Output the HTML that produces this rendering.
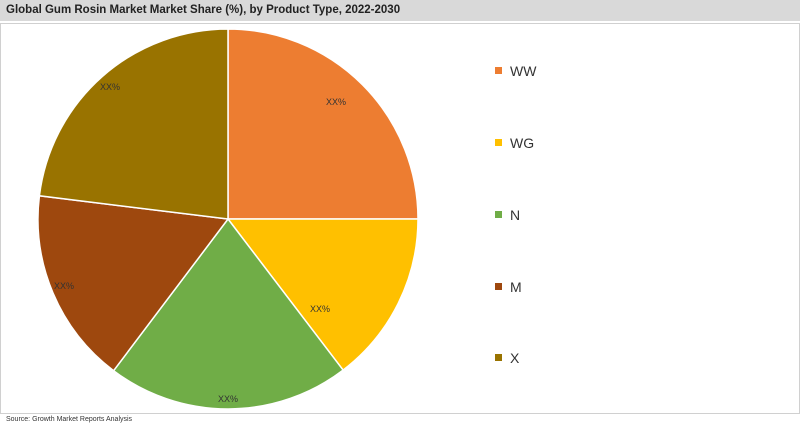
<!DOCTYPE html>
<html><head><style>
body{margin:0;width:800px;height:425px;background:#fff;font-family:"Liberation Sans",sans-serif;overflow:hidden;position:relative}
.t{position:absolute;left:0;top:0;width:800px;height:21px;background:#d9d9d9;font-size:11.5px;font-weight:bold;color:#222;line-height:21px;padding-left:6px;box-sizing:border-box}
.f{position:absolute;left:0;top:23px;width:798px;height:389px;border:1px solid #d0d0d0}
.s{position:absolute;left:6px;top:416px;font-size:7px;color:#333}
</style></head><body>
<div class="t">Global Gum Rosin Market Market Share (%), by Product Type, 2022-2030</div>
<div class="f"></div>
<svg style="position:absolute;left:0;top:0" width="800" height="425">
<g stroke="#fff" stroke-width="1.5">
<path d="M228,219 L228,29 A190,190 0 0 1 418,219 Z" fill="#ed7d31"/>
<path d="M228,219 L418,219 A190,190 0 0 1 343.1,370.1 Z" fill="#ffc000"/>
<path d="M228,219 L343.1,370.1 A190,190 0 0 1 113.6,370.7 Z" fill="#70ad47"/>
<path d="M228,219 L113.6,370.7 A190,190 0 0 1 39.4,195.8 Z" fill="#9e480e"/>
<path d="M228,219 L39.4,195.8 A190,190 0 0 1 228,29 Z" fill="#997300"/>
</g>
<g font-size="9" fill="#333" text-anchor="middle">
<text x="336" y="105">XX%</text><text x="320" y="312">XX%</text>
<text x="228" y="402">XX%</text><text x="64" y="289">XX%</text><text x="110" y="90">XX%</text>
</g>
<g font-size="14" fill="#333">
<rect x="495" y="67" width="7" height="7" fill="#ed7d31"/><text x="510" y="76">WW</text>
<rect x="495" y="139" width="7" height="7" fill="#ffc000"/><text x="510" y="148">WG</text>
<rect x="495" y="211" width="7" height="7" fill="#70ad47"/><text x="510" y="220">N</text>
<rect x="495" y="283" width="7" height="7" fill="#9e480e"/><text x="510" y="292">M</text>
<rect x="495" y="354" width="7" height="7" fill="#997300"/><text x="510" y="363">X</text>
</g>
</svg>
<div class="s">Source: Growth Market Reports Analysis</div>
</body></html>
